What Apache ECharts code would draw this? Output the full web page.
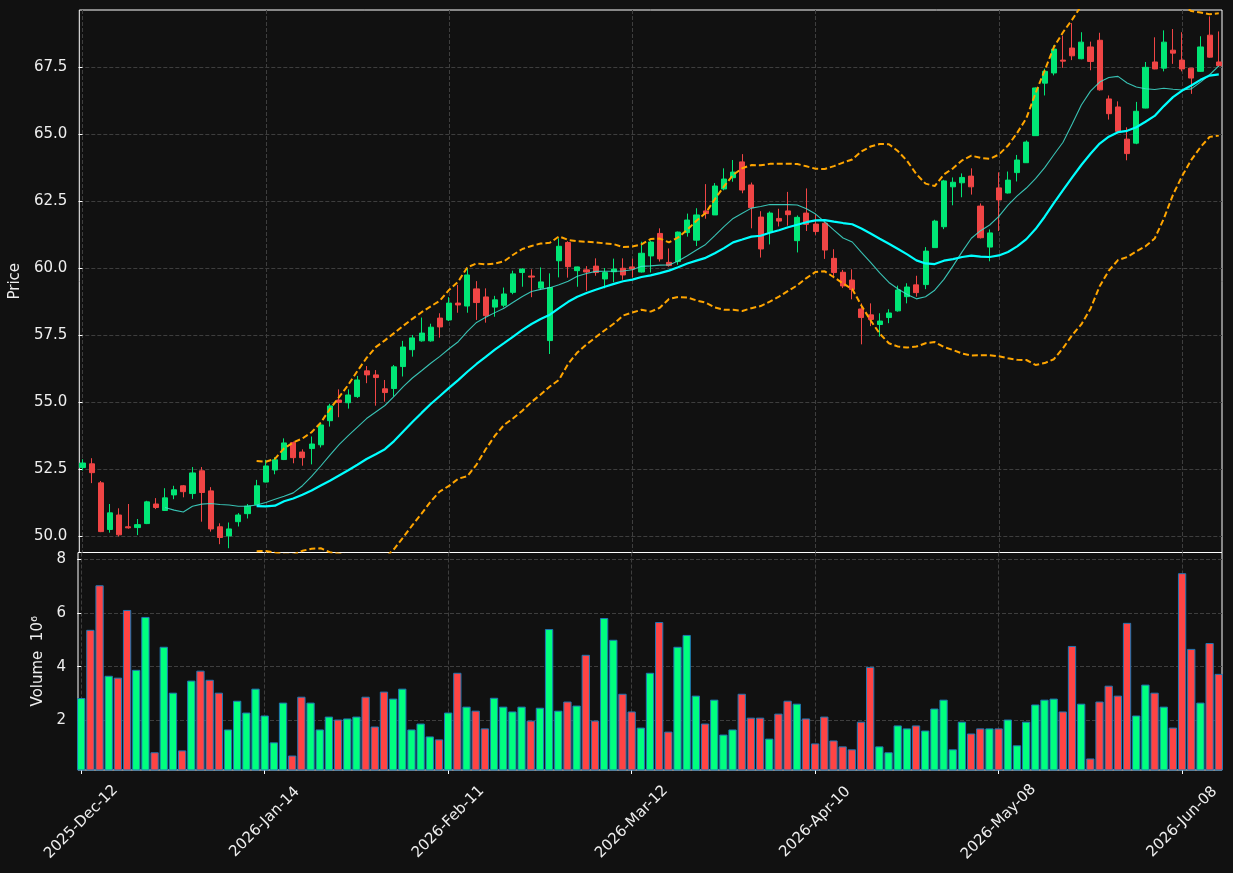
<!DOCTYPE html>
<html>
<head>
<meta charset="utf-8">
<script src="https://cdn.jsdelivr.net/npm/echarts@6/dist/echarts.min.js"></script>
<style>
  html, body { margin: 0; padding: 0; background: #111111; }
  #chart { width: 1233px; height: 873px; }
</style>
</head>
<body>
<div id="chart"></div>
<script>
// daily OHLC, one entry per trading day (index 0 = 2025-Dec-12)
const opens = [
  52.55, 52.69, 51.98, 50.24, 50.78, 50.34, 50.31, 50.46, 51.19, 50.95,
  51.53, 51.87, 51.58, 52.43, 51.68, 50.34, 50.00, 50.53, 50.83, 51.17,
  52.01, 52.46, 52.85, 53.48, 53.13, 53.26, 53.40, 54.30, 55.07, 54.97,
  55.20, 56.16, 56.01, 55.49, 55.50, 56.32, 56.95, 57.28, 57.28, 58.13,
  58.06, 58.69, 58.58, 59.22, 58.92, 58.54, 58.61, 59.09, 59.83, 59.70,
  59.25, 57.29, 60.27, 60.95, 59.90, 59.93, 60.07, 59.59, 59.86, 59.99,
  60.04, 59.85, 60.45, 61.29, 60.21, 60.24, 61.32, 61.04, 62.13, 61.98,
  62.95, 63.37, 63.96, 63.10, 61.90, 61.33, 61.85, 62.13, 61.02, 62.05,
  61.64, 61.67, 60.36, 59.84, 59.55, 58.47, 58.25, 57.89, 58.15, 58.40,
  58.93, 59.37, 59.38, 60.76, 61.54, 63.03, 63.18, 63.43, 62.31, 60.78,
  62.99, 62.80, 63.56, 63.93, 64.94, 66.90, 67.28, 67.76, 68.21, 67.81,
  68.25, 68.50, 66.31, 66.01, 64.81, 64.66, 65.97, 67.69, 67.46, 68.13,
  67.76, 67.46, 67.34, 68.69, 67.69
];
const closes = [
  52.72, 52.36, 50.16, 50.86, 50.04, 50.30, 50.42, 51.27, 51.06, 51.42,
  51.72, 51.65, 52.35, 51.62, 50.26, 49.94, 50.26, 50.78, 51.11, 51.87,
  52.61, 52.84, 53.47, 52.92, 52.92, 53.43, 54.14, 54.85, 54.98, 55.26,
  55.82, 56.01, 55.91, 55.35, 56.31, 57.05, 57.39, 57.57, 57.79, 57.80,
  58.69, 58.62, 59.74, 58.71, 58.22, 58.81, 59.03, 59.78, 59.96, 59.66,
  59.48, 59.27, 60.81, 60.05, 60.04, 59.85, 59.83, 59.83, 59.96, 59.74,
  59.96, 60.55, 60.97, 60.34, 60.09, 61.34, 61.79, 61.98, 62.03, 63.06,
  63.32, 63.58, 62.91, 62.25, 60.71, 62.05, 61.75, 61.99, 61.89, 61.63,
  61.36, 60.67, 59.83, 59.33, 59.20, 58.15, 58.08, 58.02, 58.32, 59.18,
  59.29, 59.08, 60.63, 61.75, 63.25, 63.20, 63.38, 63.03, 61.13, 61.31,
  62.54, 63.28, 64.03, 64.70, 66.72, 67.34, 68.17, 67.72, 67.92, 68.43,
  67.71, 66.65, 65.76, 65.10, 64.27, 65.85, 67.49, 67.43, 68.43, 68.02,
  67.43, 67.09, 68.25, 67.87, 67.55
];
const highs = [
  52.86, 52.90, 52.05, 51.19, 51.03, 51.19, 50.63, 51.31, 51.41, 51.78,
  51.87, 51.90, 52.57, 52.57, 51.82, 50.47, 50.50, 50.85, 51.19, 52.09,
  52.84, 52.94, 53.64, 53.52, 53.23, 53.71, 54.23, 54.93, 55.47, 55.47,
  55.97, 56.34, 56.19, 55.82, 56.38, 57.28, 57.50, 58.15, 57.92, 58.31,
  58.91, 59.37, 59.99, 59.51, 59.24, 58.96, 59.27, 59.90, 59.99, 59.95,
  60.02, 59.80, 61.11, 61.00, 60.05, 60.07, 60.36, 60.00, 60.35, 60.36,
  60.35, 60.98, 61.02, 61.48, 60.73, 61.36, 62.03, 62.23, 63.13, 63.17,
  63.72, 64.03, 64.25, 63.19, 62.12, 62.11, 62.21, 62.84, 61.96, 62.97,
  62.00, 61.73, 60.70, 59.93, 59.95, 58.68, 58.68, 58.31, 58.46, 59.34,
  59.43, 59.71, 60.78, 61.80, 63.29, 63.38, 63.53, 63.72, 62.41, 61.44,
  63.57, 63.60, 64.22, 64.76, 66.74, 67.44, 68.31, 68.67, 69.14, 68.80,
  68.45, 68.78, 66.44, 66.22, 65.25, 66.20, 67.69, 68.61, 68.87, 68.92,
  68.80, 67.47, 68.65, 69.39, 68.83
];
const lows = [
  52.44, 51.97, 50.14, 50.12, 49.98, 50.27, 50.03, 50.44, 51.00, 50.93,
  51.37, 51.44, 51.38, 50.53, 50.16, 49.69, 49.54, 50.35, 50.65, 51.15,
  52.00, 52.30, 52.83, 52.71, 52.62, 52.67, 53.30, 54.08, 54.43, 54.75,
  55.15, 55.70, 54.86, 55.01, 55.20, 55.95, 56.69, 57.25, 57.25, 57.40,
  58.02, 58.33, 58.33, 58.06, 57.96, 58.18, 58.53, 59.02, 59.30, 58.91,
  59.18, 56.79, 59.65, 59.64, 59.30, 59.15, 59.71, 59.24, 59.47, 59.56,
  59.65, 59.83, 59.83, 60.24, 60.05, 60.12, 61.17, 60.82, 61.84, 61.98,
  62.90, 63.22, 62.79, 61.48, 60.39, 60.88, 61.55, 61.58, 60.58, 61.38,
  61.24, 60.34, 59.62, 59.25, 58.83, 57.15, 57.83, 57.44, 57.94, 58.37,
  58.68, 58.93, 59.21, 60.76, 61.45, 62.34, 62.64, 62.74, 61.10, 60.25,
  61.38, 62.78, 63.23, 63.93, 64.94, 66.44, 67.19, 67.47, 67.76, 67.79,
  67.38, 66.62, 65.54, 65.08, 64.02, 64.62, 65.96, 67.42, 67.34, 67.62,
  67.34, 66.50, 67.32, 67.85, 67.52
];
// volume in millions
const volumes = [
  2.83, 5.37, 7.03, 3.66, 3.59, 6.11, 3.88, 5.85, 0.81, 4.74,
  3.03, 0.88, 3.48, 3.85, 3.51, 3.03, 1.66, 2.73, 2.29, 3.18,
  2.18, 1.18, 2.66, 0.69, 2.88, 2.66, 1.66, 2.14, 2.03, 2.07,
  2.14, 2.88, 1.77, 3.07, 2.81, 3.18, 1.66, 1.88, 1.40, 1.29,
  2.29, 3.77, 2.51, 2.36, 1.70, 2.84, 2.51, 2.33, 2.51, 1.99,
  2.47, 5.40, 2.36, 2.70, 2.55, 4.44, 1.99, 5.81, 5.00, 2.99,
  2.33, 1.73, 3.77, 5.66, 1.58, 4.74, 5.18, 2.92, 1.88, 2.77,
  1.47, 1.66, 2.99, 2.10, 2.10, 1.32, 2.25, 2.73, 2.62, 2.07,
  1.14, 2.14, 1.25, 1.03, 0.92, 1.95, 3.99, 1.03, 0.81, 1.81,
  1.70, 1.81, 1.62, 2.44, 2.77, 0.92, 1.95, 1.51, 1.70, 1.70,
  1.70, 2.03, 1.07, 1.95, 2.59, 2.77, 2.81, 2.33, 4.77, 2.62,
  0.58, 2.70, 3.29, 2.92, 5.63, 2.18, 3.33, 3.03, 2.51, 1.73,
  7.48, 4.66, 2.66, 4.88, 3.73
];
const tickIdx = [0, 20, 40, 60, 80, 100, 120];
const tickLabels = ['2025-Dec-12', '2026-Jan-14', '2026-Feb-11', '2026-Mar-12',
                    '2026-Apr-10', '2026-May-08', '2026-Jun-08'];
const priceTicks = [50, 52.5, 55, 57.5, 60, 62.5, 65, 67.5];
const volTicks = [2, 4, 6, 8];

const UP = '#00e676', DOWN = '#f04545';
const VUP = '#00ff7f', VDOWN = '#ff4444';

// rolling mean / bollinger from the closes
function rolling(n, fn) {
  return closes.map((c, i) => {
    if (i < n - 1) return [i, null];
    const w = closes.slice(i - n + 1, i + 1);
    return [i, fn(w)];
  });
}
const mean = w => w.reduce((a, b) => a + b, 0) / w.length;
const std = w => {
  const m = mean(w);
  return Math.sqrt(w.reduce((a, b) => a + (b - m) * (b - m), 0) / (w.length - 1));
};
const ma10 = rolling(10, mean);
const ma20 = rolling(20, mean);
const bbUp = rolling(20, w => mean(w) + 2 * std(w));
const bbLo = rolling(20, w => mean(w) - 2 * std(w));

const candles = closes.map((c, i) => [i, opens[i], c, lows[i], highs[i]]);
const volBars = volumes.map((v, i) => ({
  value: [i, v],
  itemStyle: { color: closes[i] >= opens[i] ? VUP : VDOWN }
}));

const font = 'DejaVu Sans';
const FS = 15;
const gridLine = { show: true, lineStyle: { color: '#3e3e3e', type: [4, 2], width: 1 } };

const chart = echarts.init(document.getElementById('chart'));
chart.setOption({
  backgroundColor: '#111111',
  animation: false,
  textStyle: { fontFamily: font },
  grid: [
    { left: 78, top: 10, width: 1144, height: 542.5, show: true,
      borderColor: '#ffffff', borderWidth: 1, backgroundColor: '#111111' },
    { left: 78, top: 552.5, width: 1144, height: 217.5, show: true,
      borderColor: '#ffffff', borderWidth: 1, backgroundColor: '#111111' }
  ],
  xAxis: [
    {
      type: 'value', gridIndex: 0, min: -0.35, max: 124.35,
      axisLine: { show: false },
      axisTick: { show: false, customValues: tickIdx },
      axisLabel: { show: false, customValues: tickIdx },
      splitLine: gridLine
    },
    {
      type: 'value', gridIndex: 1, min: -0.35, max: 124.35,
      axisLine: { show: false },
      axisTick: { show: true, customValues: tickIdx, length: 4,
                  lineStyle: { color: '#ffffff' } },
      axisLabel: {
        customValues: tickIdx, rotate: 45, margin: 52,
        align: 'center', verticalAlign: 'middle',
        color: '#eeeeee', fontSize: FS, fontFamily: font,
        formatter: v => tickLabels[tickIdx.indexOf(Math.round(v))] || ''
      },
      splitLine: gridLine
    }
  ],
  yAxis: [
    {
      type: 'value', gridIndex: 0, min: 49.38, max: 69.63,
      name: 'Price', nameLocation: 'middle', nameGap: 49,
      nameTextStyle: { color: '#eeeeee', fontSize: FS, fontFamily: font },
      axisLine: { show: false },
      axisTick: { show: true, customValues: priceTicks, length: 4,
                  lineStyle: { color: '#ffffff' } },
      axisLabel: { customValues: priceTicks, color: '#eeeeee', fontSize: FS,
                   fontFamily: font, margin: 12, formatter: v => v.toFixed(1) },
      splitLine: gridLine
    },
    {
      type: 'value', gridIndex: 1, min: 0.15, max: 8.25,
      name: 'Volume  10\u2076', nameLocation: 'middle', nameGap: 28,
      nameTextStyle: { color: '#eeeeee', fontSize: FS, fontFamily: font },
      axisLine: { show: false },
      axisTick: { show: true, customValues: volTicks, length: 4,
                  lineStyle: { color: '#ffffff' } },
      axisLabel: { customValues: volTicks, color: '#eeeeee', fontSize: FS,
                   fontFamily: font, margin: 12 },
      splitLine: gridLine
    }
  ],
  series: [
    {
      name: 'OHLC', type: 'candlestick', xAxisIndex: 0, yAxisIndex: 0,
      barWidth: 5.6, z: 2,
      itemStyle: { color: UP, color0: DOWN, borderColor: UP, borderColor0: DOWN, borderWidth: 1 },
      data: candles
    },
    {
      name: 'BB upper', type: 'line', xAxisIndex: 0, yAxisIndex: 0, z: 3,
      showSymbol: false,
      lineStyle: { color: '#ffa500', width: 2, type: [6, 3] },
      data: bbUp
    },
    {
      name: 'BB lower', type: 'line', xAxisIndex: 0, yAxisIndex: 0, z: 3,
      showSymbol: false,
      lineStyle: { color: '#ffa500', width: 2, type: [6, 3] },
      data: bbLo
    },
    {
      name: 'MA10', type: 'line', xAxisIndex: 0, yAxisIndex: 0, z: 4,
      showSymbol: false,
      lineStyle: { color: 'rgba(64,224,208,0.85)', width: 1.1 },
      data: ma10
    },
    {
      name: 'MA20', type: 'line', xAxisIndex: 0, yAxisIndex: 0, z: 4,
      showSymbol: false,
      lineStyle: { color: '#00ffff', width: 2.2 },
      data: ma20
    },
    {
      name: 'Volume', type: 'bar', xAxisIndex: 1, yAxisIndex: 1,
      barWidth: 8.3,
      itemStyle: { borderColor: '#1f77b4', borderWidth: 1 },
      data: volBars
    }
  ]
});
</script>
</body>
</html>
